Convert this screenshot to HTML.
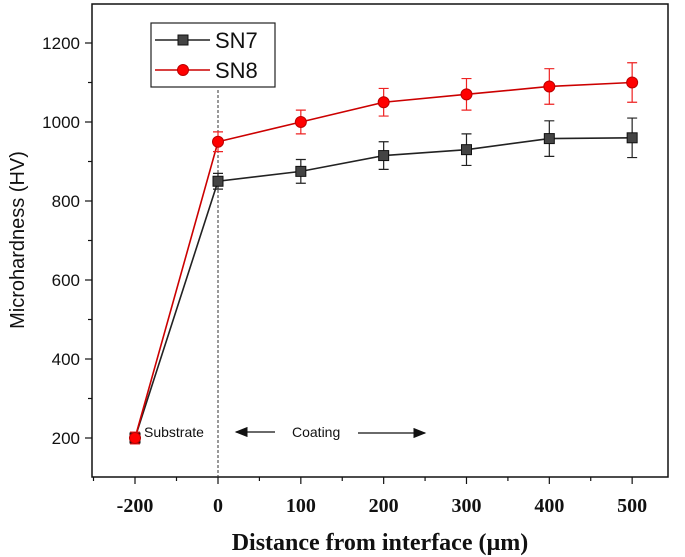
<!DOCTYPE html>
<html><head><meta charset="utf-8"><style>
body{margin:0;background:#fff}
svg{display:block}
.tk{font-family:"Liberation Sans",sans-serif;font-size:17px;fill:#111}
.xt{font-family:"Liberation Serif",serif;font-weight:bold;font-size:20px;fill:#111}
</style></head><body>
<svg id="chart" width="685" height="557" viewBox="0 0 685 557">
<defs><marker id="ah" markerWidth="10" markerHeight="8" refX="9" refY="4" orient="auto"><path d="M0,0 L10,4 L0,8 z" fill="#111"/></marker></defs>
<g id="plot"></g>
</svg>
<script>
const xValues=[-200,0,100,200,300,400,500];
const sn7=[200,850,875,915,930,958,960];
const sn7Err=[0,20,30,35,40,45,50];
const sn8=[200,950,1000,1050,1070,1090,1100];
const sn8Err=[15,25,30,35,40,45,50];
const xTicks=[-200,0,100,200,300,400,500];
const xMinor=[-300,-100,50,150,250,350,450,550];
const yTicks=[200,400,600,800,1000,1200];
const NS="http://www.w3.org/2000/svg";
const L=92,R=668,T=4,B=477;
function sx(v){return v<0?218+v*0.415:218+v*0.8283;}
function sy(v){return 438-(v-200)*0.395;}
const g=document.getElementById('plot');
function mk(t,a,p){const e=document.createElementNS(NS,t);for(const k in a)e.setAttribute(k,a[k]);(p||g).appendChild(e);return e;}
let fr=mk('rect',{x:L,y:T,width:R-L,height:B-T,fill:'none',stroke:'#111','stroke-width':1.5});


for(let v=100;v<=1300;v+=100){const y=sy(v);if(y<T||y>B)continue;const maj=v%200===0;
 const t=mk('line',{x1:L,x2:L-(maj?7:4),y1:y,y2:y,stroke:'#111','stroke-width':1.2});
 
 }
yTicks.forEach(v=>{const t=mk('text',{x:L-12,y:sy(v)+6,'text-anchor':'end',class:'tk'});t.textContent=v;
 
 });
xTicks.forEach(v=>{const x=sx(v);
 const t=mk('line',{x1:x,x2:x,y1:B,y2:B+7,stroke:'#111','stroke-width':1.2});
 
 });
xMinor.forEach(v=>{const x=sx(v);if(x<L-1||x>R)return;
 const t=mk('line',{x1:x,x2:x,y1:B,y2:B+4,stroke:'#111','stroke-width':1.2});
 
 });
xTicks.forEach(v=>{const t=mk('text',{x:sx(v),y:512,'text-anchor':'middle',class:'xt'});t.textContent=v;
 
 });
let yt=mk('text',{x:0,y:0,transform:'translate(24,240) rotate(-90)','text-anchor':'middle',style:'font-family:"Liberation Sans",sans-serif;font-size:20px;fill:#111'});
yt.textContent='Microhardness (HV)';


let xt=mk('text',{x:380,y:550,'text-anchor':'middle',style:'font-family:"Liberation Serif",serif;font-weight:bold;font-size:24px;fill:#111'});
xt.textContent='Distance from interface (µm)';


let dl=mk('line',{x1:sx(0),x2:sx(0),y1:90,y2:B,stroke:'#333','stroke-width':1,'stroke-dasharray':'3,2'});


let st=mk('text',{x:144,y:437,style:'font-family:"Liberation Sans",sans-serif;font-size:14px;fill:#111'});st.textContent='Substrate';


let a1=mk('line',{x1:275,x2:236,y1:432,y2:432,stroke:'#111','stroke-width':1.3,'marker-end':'url(#ah)'});


let ct=mk('text',{x:292,y:437,style:'font-family:"Liberation Sans",sans-serif;font-size:14px;fill:#111'});ct.textContent='Coating';


let a2=mk('line',{x1:358,x2:425,y1:433,y2:433,stroke:'#111','stroke-width':1.3,'marker-end':'url(#ah)'});


function series(vals,errs,col,lineCol,shape,name){
 const pts=vals.map((v,i)=>sx(xValues[i])+','+sy(v)).join(' ');
 const pl=mk('polyline',{points:pts,fill:'none',stroke:lineCol,'stroke-width':1.6});
 
 
 vals.forEach((v,i)=>{const x=sx(xValues[i]);
  if(errs[i]>0){const y1=sy(v+errs[i]),y2=sy(v-errs[i]);
   const e=mk('path',{d:`M${x},${y1}V${y2}M${x-5},${y1}H${x+5}M${x-5},${y2}H${x+5}`,stroke:col,'stroke-width':1.2,fill:'none'});
   
   }
  let m;
  if(shape==='sq')m=mk('rect',{x:x-5,y:sy(v)-5,width:10,height:10,fill:'#444',stroke:'#111','stroke-width':1});
  else m=mk('circle',{cx:x,cy:sy(v),r:5.5,fill:'#f00',stroke:'#b00','stroke-width':1});
  
  
 });
}
series(sn7,sn7Err,'#222','#222','sq','sn7');
series(sn8,sn8Err,'#e22','#c00','ci','sn8');
const lg=mk('g',{});


mk('rect',{x:151,y:23,width:124,height:64,fill:'#fff',stroke:'#222','stroke-width':1.2},lg);
mk('line',{x1:155,x2:210,y1:40,y2:40,stroke:'#222','stroke-width':1.6},lg);
mk('rect',{x:178,y:35,width:10,height:10,fill:'#444',stroke:'#111'},lg);
mk('line',{x1:155,x2:210,y1:70,y2:70,stroke:'#c00','stroke-width':1.6},lg);
mk('circle',{cx:183,cy:70,r:5.5,fill:'#f00',stroke:'#b00'},lg);
let l1=mk('text',{x:215,y:48,style:'font-family:"Liberation Sans",sans-serif;font-size:22px;fill:#111'},lg);l1.textContent='SN7';


let l2=mk('text',{x:215,y:78,style:'font-family:"Liberation Sans",sans-serif;font-size:22px;fill:#111'},lg);l2.textContent='SN8';


</script>
</body></html>
